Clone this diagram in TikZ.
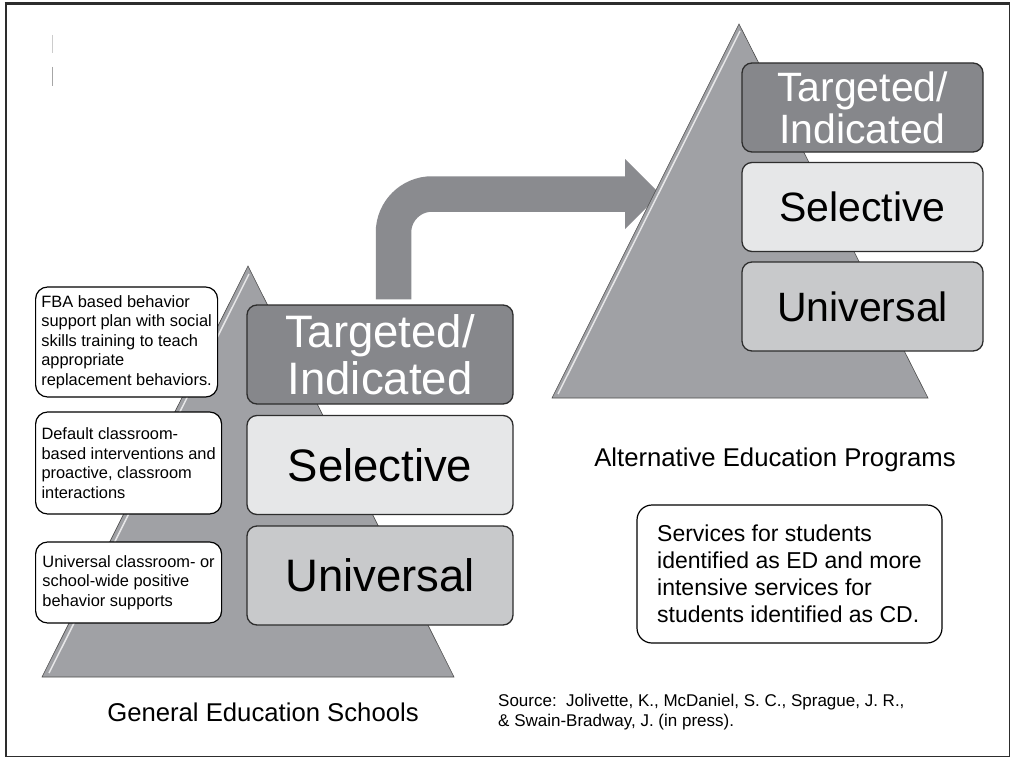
\documentclass[tikz,border=0pt]{standalone}
\usepackage{fontspec}
\setmainfont{Liberation Sans}
\usetikzlibrary{arrows.meta,positioning,backgrounds}

\definecolor{pyrgray}{RGB}{160,161,165}
\definecolor{arrowgray}{RGB}{138,139,143}
\definecolor{topgray}{RGB}{134,135,139}
\definecolor{midgray}{RGB}{230,231,232}
\definecolor{lowgray}{RGB}{200,201,203}
\definecolor{edgegray}{RGB}{45,45,45}

\begin{document}
\begin{tikzpicture}
[x=1pt,y=-1pt,node distance=110.5pt,
                    level node/.style={draw=edgegray,line width=1.3pt,rounded corners=10pt,
                      minimum width=266pt,minimum height=99pt,inner sep=0pt,align=center,
                      font=\fontsize{45.5}{47}\selectfont},
                    small level/.style={level node,minimum width=241pt,minimum height=89pt,
                      font=\fontsize{41}{42}\selectfont},
                    top level/.style={fill=topgray,text=white},
                    note node/.style={draw=black,line width=1.2pt,rounded corners=12pt,fill=white,
                      inner xsep=5.5pt,inner ysep=0pt,align=left,anchor=west,
                      font=\fontsize{16.4}{19.5}\selectfont},
                    title node/.style={font=\fontsize{25.7}{30}\selectfont},
                    pyramid/.style={fill=pyrgray,draw=gray!60!black,line width=0.6pt},
                    bevel/.style={white,opacity=0.75,line width=1.5pt},
                    big arrow/.style={arrowgray,line width=35.5pt,rounded corners=38.5pt,
                      -{Triangle[width=70pt,length=35pt,line width=0pt]}}]

  \useasboundingbox (0,0) rectangle (1011,757);

  \draw[pyramid] (248,266) -- (454,677) -- (42,677) -- cycle;
  \draw[bevel] (249,274) -- (49,673);
  \draw[pyramid] (739,24) -- (928,398) -- (552,398) -- cycle;
  \draw[bevel] (740,31) -- (558,394);

  \node[level node,top level] (1) at (380,354.5) {Targeted/\\Indicated};
  \node[level node,fill=midgray] (2) [below of=1] {Selective};
  \node[level node,fill=lowgray] (3) [below of=2] {Universal};

  \node[small level,top level] (4) at (862.5,107.5) {Targeted/\\Indicated};
  \node[small level,fill=midgray] (5) [below of=4,node distance=99.5pt] {Selective};
  \node[small level,fill=lowgray] (6) [below of=5,node distance=99.5pt] {Universal};

  \node[note node,minimum width=182pt,minimum height=110pt] (7) at (35,342)
    {FBA based behavior\\support plan with social\\skills training to teach\\appropriate\\replacement behaviors.};
  \node[note node,minimum width=186pt,minimum height=102pt] (8) at (35,463)
    {Default classroom-\\based interventions and\\proactive, classroom\\interactions};
  \node[note node,minimum width=186pt,minimum height=81pt] (9) at (35,582.5)
    {Universal classroom- or\\school-wide positive\\behavior supports};

  \node[draw=black,line width=1.2pt,rounded corners=15pt,minimum width=305pt,minimum height=138pt,
    align=left,font=\fontsize{23}{27}\selectfont] (10) at (789.5,574)
    {Services for students\\identified as ED and more\\intensive services for\\students identified as CD.};

  \node[title node] (11) at (263,712) {General Education Schools};
  \node[title node] (12) at (775,460) {Alternative Education Programs};
  \node[anchor=west,align=left,inner sep=0pt,font=\fontsize{17}{20}\selectfont] (13) at (498,712)
    {Source:\ \ Jolivette, K., McDaniel, S. C., Sprague, J. R.,\\\& Swain-Bradway, J. (in press).};

  \begin{scope}[on background layer]
    \fill[white] (0,0) rectangle (1011,757);
    \coordinate (tip) at (660,194);
    \draw[big arrow] ([xshift=13.5pt,yshift=5pt]1.north) |- (tip);
  \end{scope}

  \draw[gray!40,line width=1pt] (52,35) -- (52,53);
  \draw[gray!70,line width=1pt] (52,67) -- (52,86);
  \draw[edgegray,line width=1pt] (6,4) rectangle (1009,756);
  \draw[edgegray,line width=3pt] (4.5,4) -- (1009.5,4);
  \draw[edgegray,line width=2.5pt] (6,4) -- (6,756.5);
\end{tikzpicture}
\end{document}
